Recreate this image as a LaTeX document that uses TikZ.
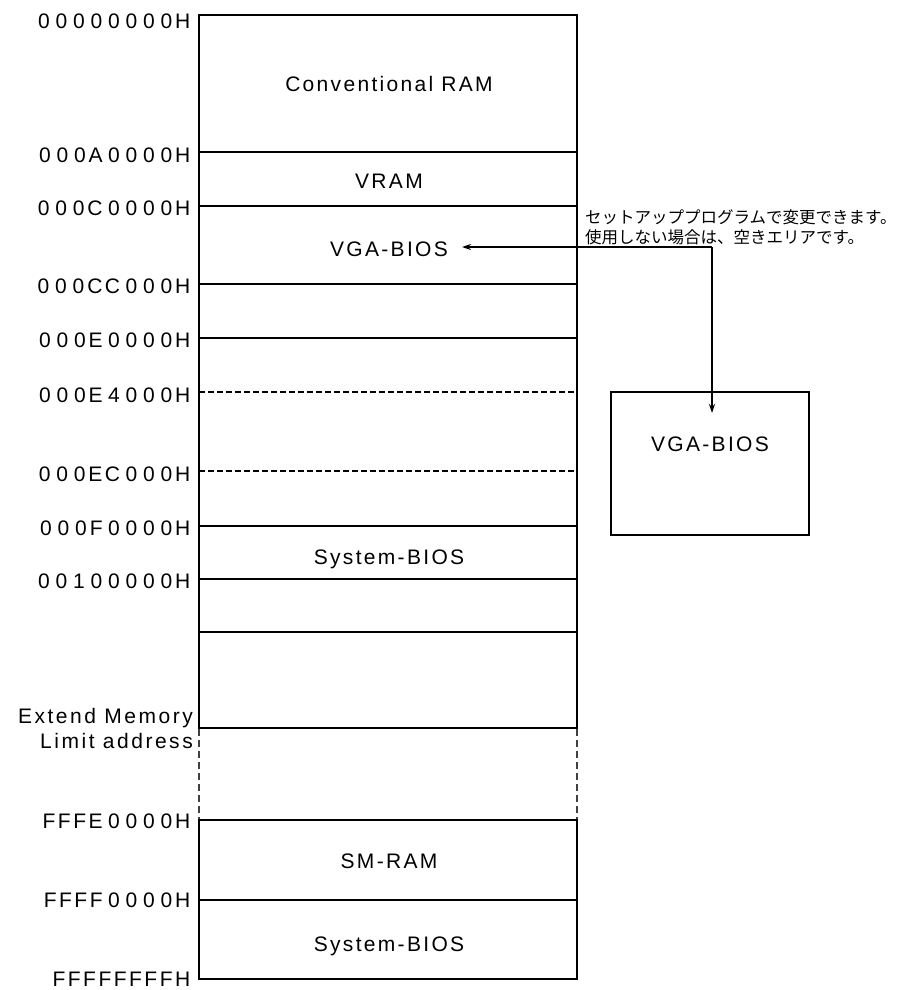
\documentclass[tikz,border=0pt]{standalone}
\usepackage{fontspec}
\setmainfont{Liberation Sans}
\newfontfamily\lblf[LetterSpace=12]{Liberation Sans}
\newfontfamily\boxf[LetterSpace=11]{Liberation Sans}
\newfontfamily\jp{Noto Sans CJK JP}
\usetikzlibrary{arrows.meta}
\newcommand\hxpitch{17.5pt}
\def\hxloop#1{\ifx#1\relax\else\ifnum`#1<`A\relax\makebox[\hxpitch][c]{#1}\else#1\kern2.5pt\fi\expandafter\hxloop\fi}
\newcommand\hx[1]{\hxloop#1\relax}
\begin{document}
\begin{tikzpicture}[x=1pt,y=-1pt,
  thickline/.style={line width=2.6pt},
  midline/.style={line width=2pt},
  thinline/.style={line width=1.2pt},
  dashline/.style={line width=1.1pt, dash pattern=on 6pt off 3pt},
  vdash/.style={line width=1.1pt, dash pattern=on 7pt off 4pt, black!75},
  addr/.style={anchor=base east, inner sep=0pt, font=\fontsize{21}{25}\selectfont},
  addrtxt/.style={anchor=base east, inner sep=0pt, font=\lblf\fontsize{21}{25}\selectfont},
  blabel/.style={anchor=base, inner sep=0pt, font=\boxf\fontsize{21}{25}\selectfont},
  note/.style={anchor=base west, inner sep=0pt, font=\jp\fontsize{16.5}{20}\selectfont},
  arr/.style={line width=1.2pt, -{Stealth[length=9pt,width=6pt]}}
]
\useasboundingbox (0,0) rectangle (902,990);

% main memory box
\draw[thickline] (199,15) rectangle (577,728);
\foreach \yy in {152,206,284,338,526,579,632}
  \draw[thinline] (199,\yy) -- (577,\yy);
\foreach \yy in {392,471}
  \draw[dashline] (199,\yy) -- (577,\yy);

% gap between boxes
\draw[vdash] (199,729) -- (199,820);
\draw[vdash] (577,729) -- (577,820);

% lower box
\draw[thickline] (199,820) rectangle (577,979);
\draw[midline] (199,900) -- (577,900);

% right VGA-BIOS box
\draw[thickline] (611,392) rectangle (809,535);

% address labels
\node[addr] (a0) at (193,28.5) {\hx{00000000H}};
\node[addr] (a1) at (193,162) {\hx{000A0000H}};
\node[addr] (a2) at (193,215) {\hx{000C0000H}};
\node[addr] (a3) at (193,293.5) {\hx{000CC000H}};
\node[addr] (a4) at (193,347.5) {\hx{000E0000H}};
\node[addr] (a5) at (193,402) {\hx{000E4000H}};
\node[addr] (a6) at (193,481.5) {\hx{000EC000H}};
\node[addr] (a7) at (193,535.5) {\hx{000F0000H}};
\node[addr] (a8) at (193,588) {\hx{00100000H}};
\node[addrtxt] (e1) at (193,723) {Extend Memory};
\node[addrtxt] (e2) at (193,748) {Limit address};
\node[addr] (b1) at (193,828) {\hx{FFFE0000H}};
\node[addr] (b2) at (193,907) {\hx{FFFF0000H}};
\node[addr] (b3) at (193,986.5) {\hx{FFFFFFFFH}};

% region labels
\node[blabel] (conv) at (389,92) {Conventional RAM};
\node[blabel] (vram) at (389,188) {VRAM};
\node[blabel] (vgam) at (389,256) {VGA-BIOS};
\node[blabel] (sysm) at (389,564) {System-BIOS};
\node[blabel] (smram) at (389,868) {SM-RAM};
\node[blabel] (sysb) at (389,951) {System-BIOS};
\node[blabel] (vgar) at (710,451) {VGA-BIOS};

% note
\node[note] (n1) at (585,223) {セットアッププログラムで変更できます。};
\node[note] (n2) at (585,243) {使用しない場合は、空きエリアです。};

% arrows
\coordinate (bend) at (712,247);
\coordinate (tipL) at (462,247);
\coordinate (tipD) at (712,413);
\draw[arr] (bend) -- (tipL);
\draw[arr] (bend) -- (tipD);
\end{tikzpicture}
\end{document}
